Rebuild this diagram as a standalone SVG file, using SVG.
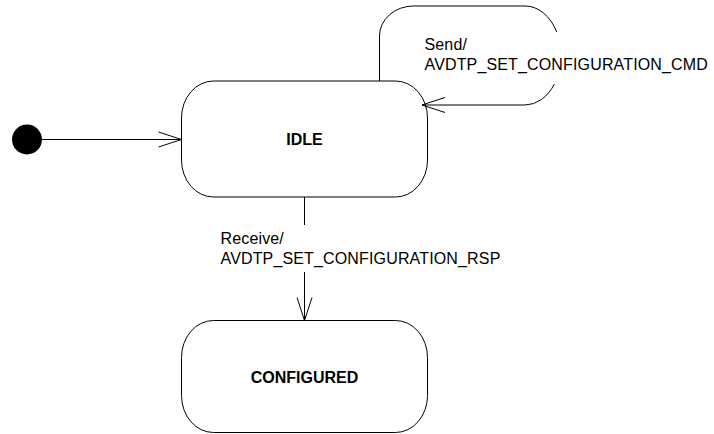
<svg xmlns="http://www.w3.org/2000/svg" width="714" height="434" viewBox="0 0 714 434">
<style>
.state{fill:#fff;stroke:#000;stroke-width:1}
.name{font-family:"Liberation Sans",Arial,sans-serif;font-size:16px;font-weight:bold;fill:#000;text-anchor:middle}
.lbl{font-family:"Liberation Sans",Arial,sans-serif;font-size:16px;letter-spacing:0.15px;fill:#000}
.edge{fill:none;stroke:#000;stroke-width:1}
</style>
<defs>
<marker id="arr" markerUnits="userSpaceOnUse" markerWidth="30" markerHeight="20" viewBox="-25 -10 30 20" refX="0" refY="0" orient="auto" overflow="visible">
<path d="M-23,-7.5 L0,0 L-23,7.5" fill="none" stroke="#000" stroke-width="1"/>
</marker>
</defs>
<rect width="714" height="434" fill="#fff"/>
<g id="initial">
<circle cx="27" cy="139.5" r="15" fill="#000"/>
</g>
<g id="idle">
<rect class="state" x="181.5" y="81" width="246" height="116" rx="32" ry="37"/>
<text class="name" x="304.5" y="145">IDLE</text>
</g>
<g id="configured">
<rect class="state" x="181.5" y="320.5" width="246" height="112" rx="32" ry="37"/>
<text class="name" x="304.5" y="382.5">CONFIGURED</text>
</g>
<g id="connectors">
<path class="edge" d="M42,139.5 H181.5" marker-end="url(#arr)"/>
<path class="edge" d="M379.5,81 V36 A34,30 0 0 1 413.5,6 H525 A36,49.5 0 0 1 556.7,32"/>
<path class="edge" d="M554.4,84 A36,49.5 0 0 1 525,105 H422" marker-end="url(#arr)"/>
<path class="edge" d="M304.5,197 V225"/>
<path class="edge" d="M304.5,272 V320.5" marker-end="url(#arr)"/>
<text class="lbl" x="424.5" y="50">Send/</text>
<text class="lbl" x="424.5" y="69.5">AVDTP_SET_CONFIGURATION_CMD</text>
<text class="lbl" x="220.5" y="244">Receive/</text>
<text class="lbl" x="220.5" y="263.5">AVDTP_SET_CONFIGURATION_RSP</text>
</g>
</svg>
